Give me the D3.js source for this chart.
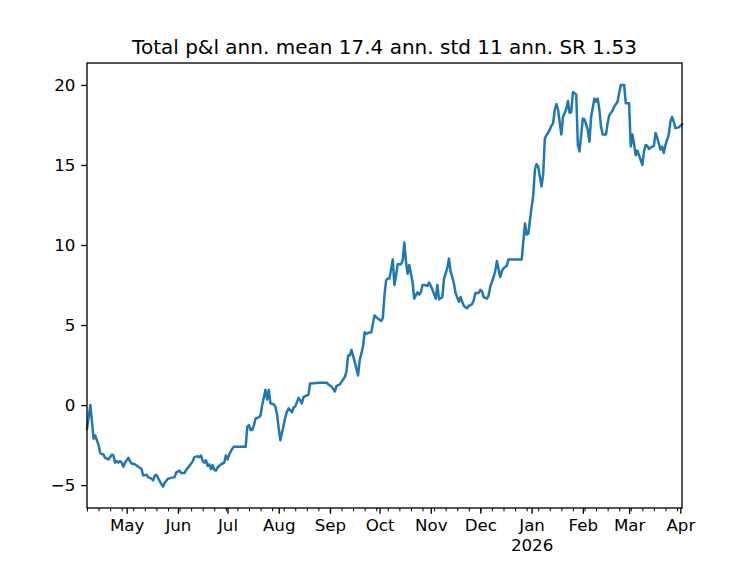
<!DOCTYPE html>
<html>
<head>
<meta charset="utf-8">
<script src="https://cdn.jsdelivr.net/npm/d3@7"></script>
<style>
  html, body { margin: 0; padding: 0; background: #fff; }
  svg { display: block; font-family: "DejaVu Sans", sans-serif; }
</style>
</head>
<body>
<svg id="chart" width="752" height="566"></svg>
<script>
const titleText = "Total p&l ann. mean 17.4 ann. std 11 ann. SR 1.53";

const dates = [
  "2025-04-07","2025-04-09","2025-04-11","2025-04-12","2025-04-14","2025-04-15","2025-04-17","2025-04-18","2025-04-20","2025-04-22",
  "2025-04-23","2025-04-24","2025-04-25","2025-04-26","2025-04-27","2025-04-28","2025-04-29","2025-04-30","2025-05-02","2025-05-03",
  "2025-05-04","2025-05-06","2025-05-08","2025-05-10","2025-05-11","2025-05-13","2025-05-14","2025-05-16","2025-05-17","2025-05-18",
  "2025-05-19","2025-05-21","2025-05-23","2025-05-24","2025-05-26","2025-05-28","2025-05-30","2025-05-31","2025-06-02","2025-06-03",
  "2025-06-05","2025-06-06","2025-06-08","2025-06-10","2025-06-11","2025-06-13","2025-06-14","2025-06-15","2025-06-16","2025-06-17",
  "2025-06-18","2025-06-19","2025-06-20","2025-06-21","2025-06-22","2025-06-23","2025-06-24","2025-06-25","2025-06-27","2025-06-28",
  "2025-06-29","2025-06-30","2025-07-01","2025-07-02","2025-07-04","2025-07-05","2025-07-12","2025-07-13","2025-07-14","2025-07-15",
  "2025-07-16","2025-07-17","2025-07-18","2025-07-20","2025-07-21","2025-07-22","2025-07-24","2025-07-25","2025-07-26","2025-07-27",
  "2025-07-29","2025-07-30","2025-07-31","2025-08-01","2025-08-02","2025-08-04","2025-08-05","2025-08-06","2025-08-07","2025-08-09",
  "2025-08-10","2025-08-11","2025-08-13","2025-08-14","2025-08-15","2025-08-16","2025-08-18","2025-08-19","2025-08-20","2025-08-26",
  "2025-08-30","2025-08-31","2025-09-02","2025-09-04","2025-09-05","2025-09-07","2025-09-08","2025-09-10","2025-09-11","2025-09-12",
  "2025-09-13","2025-09-14","2025-09-16","2025-09-18","2025-09-19","2025-09-21","2025-09-22","2025-09-23","2025-09-24","2025-09-26",
  "2025-09-27","2025-09-28","2025-09-29","2025-09-30","2025-10-02","2025-10-03","2025-10-04","2025-10-05","2025-10-06","2025-10-07",
  "2025-10-09","2025-10-10","2025-10-11","2025-10-12","2025-10-14","2025-10-15","2025-10-16","2025-10-17","2025-10-18","2025-10-19",
  "2025-10-21","2025-10-22","2025-10-24","2025-10-25","2025-10-26","2025-10-27","2025-10-28","2025-10-30","2025-10-31","2025-11-01",
  "2025-11-02","2025-11-04","2025-11-05","2025-11-06","2025-11-08","2025-11-09","2025-11-11","2025-11-12","2025-11-13","2025-11-15",
  "2025-11-16","2025-11-18","2025-11-19","2025-11-20","2025-11-21","2025-11-22","2025-11-23","2025-11-24","2025-11-26","2025-11-27",
  "2025-11-28","2025-11-30","2025-12-01","2025-12-02","2025-12-03","2025-12-05","2025-12-06","2025-12-07","2025-12-09","2025-12-10",
  "2025-12-11","2025-12-13","2025-12-14","2025-12-15","2025-12-17","2025-12-18","2025-12-26","2025-12-28","2025-12-29","2025-12-30",
  "2025-12-31","2026-01-02","2026-01-03","2026-01-04","2026-01-05","2026-01-07","2026-01-08","2026-01-09","2026-01-10","2026-01-12",
  "2026-01-13","2026-01-14","2026-01-15","2026-01-16","2026-01-17","2026-01-19","2026-01-20","2026-01-22","2026-01-23","2026-01-24",
  "2026-01-25","2026-01-26","2026-01-28","2026-01-29","2026-01-30","2026-02-01","2026-02-02","2026-02-04","2026-02-05","2026-02-06",
  "2026-02-08","2026-02-09","2026-02-10","2026-02-11","2026-02-12","2026-02-13","2026-02-15","2026-02-16","2026-02-17","2026-02-19",
  "2026-02-20","2026-02-22","2026-02-23","2026-02-24","2026-02-26","2026-02-27","2026-03-01","2026-03-02","2026-03-03","2026-03-04",
  "2026-03-05","2026-03-06","2026-03-07","2026-03-08","2026-03-09","2026-03-10","2026-03-11","2026-03-12","2026-03-13","2026-03-15",
  "2026-03-16","2026-03-17","2026-03-18","2026-03-20","2026-03-21","2026-03-22","2026-03-23","2026-03-25","2026-03-26","2026-03-27",
  "2026-03-28","2026-03-29","2026-03-31","2026-04-02"
];

const pnl = [
  -1.5, 0.0, -2.1, -1.9, -2.5, -3.0, -3.1, -3.3, -3.4, -3.1,
  -3.15, -3.6, -3.5, -3.6, -3.5, -3.6, -3.85, -3.6, -3.3, -3.5,
  -3.65, -3.7, -3.85, -4.0, -4.4, -4.35, -4.5, -4.6, -4.7, -4.4,
  -4.35, -4.75, -5.1, -4.85, -4.6, -4.55, -4.5, -4.2, -4.1, -4.25,
  -4.25, -4.05, -3.8, -3.5, -3.25, -3.2, -3.25, -3.15, -3.5, -3.6,
  -3.45, -3.8, -3.7, -4.0, -3.75, -4.05, -4.1, -3.9, -3.7, -3.65,
  -3.6, -3.15, -3.4, -3.1, -2.7, -2.6, -2.6, -1.35, -1.25, -1.55,
  -1.55, -1.25, -0.85, -0.75, -0.65, 0.0, 0.95, 0.35, 0.95, 0.1,
  0.05, -0.1, -0.6, -1.45, -2.2, -1.25, -0.75, -0.4, -0.2, -0.45,
  -0.15, -0.1, 0.45, 0.3, 0.1, 0.5, 0.6, 0.65, 1.35, 1.4,
  1.4, 1.3, 1.15, 0.85, 1.2, 1.3, 1.45, 1.75, 2.1, 3.1,
  3.1, 3.45, 2.7, 1.85, 2.8, 3.65, 4.55, 4.45, 4.5, 4.55,
  5.1, 5.6, 5.5, 5.4, 5.25, 5.45, 6.9, 7.8, 7.9, 7.9,
  9.1, 7.5, 8.1, 8.8, 8.8, 9.05, 10.15, 8.95, 8.2, 8.75,
  7.65, 6.65, 7.05, 6.9, 7.05, 7.5, 7.5, 7.45, 7.65, 7.45,
  7.2, 6.65, 7.5, 6.6, 6.75, 7.9, 8.55, 9.15, 8.35, 7.6,
  7.0, 6.45, 6.75, 6.45, 6.2, 6.1, 6.05, 6.2, 6.3, 6.55,
  7.0, 7.0, 7.2, 7.1, 6.75, 6.65, 6.85, 7.4, 8.0, 8.35,
  9.0, 8.0, 8.35, 8.55, 8.7, 9.1, 9.1, 11.35, 10.65, 10.7,
  11.55, 13.1, 14.7, 15.05, 14.9, 13.65, 14.4, 16.65, 16.85, 17.2,
  17.45, 17.6, 18.45, 18.8, 18.45, 16.9, 18.0, 18.5, 19.0, 18.25,
  18.3, 19.55, 19.4, 16.25, 15.85, 17.9, 17.85, 17.2, 16.45, 18.0,
  19.15, 18.95, 19.15, 18.45, 17.4, 16.9, 16.9, 17.6, 18.1, 18.4,
  18.65, 18.95, 19.5, 20.0, 20.0, 18.85, 18.85, 16.15, 16.9, 16.3,
  15.6, 15.9, 15.6, 15.3, 15.0, 15.85, 16.25, 16.2, 16.0, 16.15,
  16.2, 17.0, 16.7, 15.95, 16.15, 15.75, 16.25, 16.9, 17.7, 18.0,
  17.7, 17.3, 17.35, 17.55
];

const yTicks = [-5, 0, 5, 10, 15, 20];
const xStart = "2025-04-07";
const xEnd = "2026-04-02";
const yDomain = [-6.43, 21.37];

const parseDate = d3.utcParse("%Y-%m-%d");
const series = dates.map((d, i) => ({ date: parseDate(d), value: pnl[i] }));

const plotL = 87, plotR = 682, plotT = 63, plotB = 508;
const svg = d3.select("#chart");
svg.append("rect").attr("width", 752).attr("height", 566).attr("fill", "#fff");

const x = d3.scaleUtc().domain([parseDate(xStart), parseDate(xEnd)]).range([plotL, plotR]);
const y = d3.scaleLinear().domain(yDomain).range([plotB, plotT]);

// line
const lineGen = d3.line().x(d => x(d.date)).y(d => y(d.value));
svg.append("path")
  .datum(series)
  .attr("fill", "none")
  .attr("stroke", "#1f77b4")
  .attr("stroke-width", 2.5)
  .attr("stroke-linejoin", "round")
  .attr("stroke-linecap", "square")
  .attr("d", lineGen);

// frame
svg.append("rect")
  .attr("x", plotL).attr("y", plotT)
  .attr("width", plotR - plotL).attr("height", plotB - plotT)
  .attr("fill", "none").attr("stroke", "#000").attr("stroke-width", 1.33);

const fontSize = 16.67;
const tickLen = 5.83, tickPad = 5.83;

// y axis
const yAxis = d3.axisLeft(y).tickValues(yTicks).tickSize(tickLen).tickPadding(tickPad)
  .tickFormat(d3.format("d"));
const gy = svg.append("g").attr("transform", `translate(${plotL},0)`).call(yAxis);
gy.select(".domain").remove();
gy.selectAll(".tick line").attr("stroke", "#000").attr("stroke-width", 1.33);
gy.selectAll(".tick text").attr("fill", "#000").attr("font-size", fontSize)
  .attr("font-family", "DejaVu Sans");

// x minor ticks (weekly)
const endPlus = d3.utcDay.offset(parseDate(xEnd), 1);
const minorTicks = d3.utcMonday.range(parseDate(xStart), endPlus);
const gxm = svg.append("g").attr("transform", `translate(0,${plotB})`)
  .call(d3.axisBottom(x).tickValues(minorTicks).tickSize(3.33).tickFormat(""));
gxm.select(".domain").remove();
gxm.selectAll(".tick line").attr("stroke", "#000").attr("stroke-width", 1);

// x major ticks (months)
const majorTicks = d3.utcMonth.range(parseDate(xStart), endPlus);
const gx = svg.append("g").attr("transform", `translate(0,${plotB})`)
  .call(d3.axisBottom(x).tickValues(majorTicks).tickSize(tickLen).tickPadding(tickPad)
    .tickFormat(d3.utcFormat("%b")));
gx.select(".domain").remove();
gx.selectAll(".tick line").attr("stroke", "#000").attr("stroke-width", 1.33);
gx.selectAll(".tick text").attr("fill", "#000").attr("font-size", fontSize)
  .attr("font-family", "DejaVu Sans");
gx.selectAll(".tick").filter(d => d.getUTCMonth() === 0)
  .select("text")
  .append("tspan").attr("x", 0).attr("dy", "1.2em")
  .text(d => d.getUTCFullYear());

// title
svg.append("text")
  .attr("x", (plotL + plotR) / 2).attr("y", 54)
  .attr("text-anchor", "middle")
  .attr("font-size", 20)
  .attr("fill", "#000")
  .text(titleText);
</script>
</body>
</html>
